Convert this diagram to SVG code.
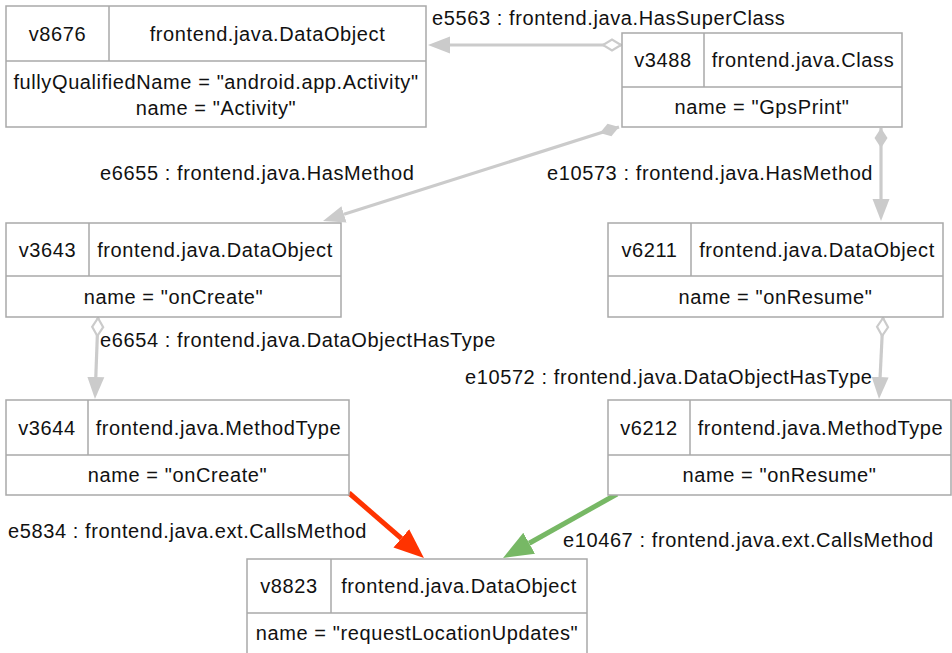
<svg xmlns="http://www.w3.org/2000/svg" width="952" height="653" viewBox="0 0 952 653">
<style>
  text { font-family: "Liberation Sans", Arial, Helvetica, sans-serif; font-size: 20px; fill: #111; letter-spacing: 0.6px; }
  .c { text-anchor: middle; }
  .box { fill: #fff; stroke: #a9a9a9; stroke-width: 1.5; }
  .div { stroke: #a9a9a9; stroke-width: 1.5; fill: none; }
  .gray { stroke: #cbcbcb; stroke-width: 3.2; fill: none; }
  .red { stroke: #ff3300; stroke-width: 5; fill: none; }
  .green { stroke: #77b865; stroke-width: 5; fill: none; }
</style>
<defs>
  <marker id="arrowGray" markerUnits="userSpaceOnUse" viewBox="0 -9 23 18" refX="0" refY="0" markerWidth="23" markerHeight="18" orient="auto">
    <path d="M0,-8.5 L22,0 L0,8.5 z" fill="#cbcbcb"/>
  </marker>
  <marker id="arrowRed" markerUnits="userSpaceOnUse" viewBox="0 -13 31 26" refX="0" refY="0" markerWidth="31" markerHeight="26" orient="auto">
    <path d="M0,-12 L30,0 L0,12 z" fill="#ff3300"/>
  </marker>
  <marker id="arrowGreen" markerUnits="userSpaceOnUse" viewBox="0 -13 31 26" refX="0" refY="0" markerWidth="31" markerHeight="26" orient="auto">
    <path d="M0,-12 L30,0 L0,12 z" fill="#77b865"/>
  </marker>
  <marker id="diamondOpen" markerUnits="userSpaceOnUse" viewBox="-2 -8 24 16" refX="0" refY="0" markerWidth="24" markerHeight="16" orient="auto" overflow="visible">
    <path d="M0,0 L9,-5.5 L18,0 L9,5.5 z" fill="#fff" stroke="#cbcbcb" stroke-width="2.2"/>
  </marker>
  <marker id="diamondFilled" markerUnits="userSpaceOnUse" viewBox="-2 -8 24 16" refX="0" refY="0" markerWidth="24" markerHeight="16" orient="auto" overflow="visible">
    <path d="M0,0 L10,-6.5 L20,0 L10,6.5 z" fill="#cbcbcb"/>
  </marker>
</defs>
<rect width="952" height="653" fill="#fff"/>

<g id="connectors">
  <g id="e5563">
    <path class="gray" d="M621,45 L450,45" marker-start="url(#diamondOpen)" marker-end="url(#arrowGray)"/>
    <text x="432" y="25">e5563 : frontend.java.HasSuperClass</text>
  </g>
  <g id="e6655">
    <path class="gray" d="M619,127 L344,214.3" marker-start="url(#diamondFilled)" marker-end="url(#arrowGray)"/>
    <text x="100" y="180">e6655 : frontend.java.HasMethod</text>
  </g>
  <g id="e10573">
    <path class="gray" d="M881,128 L881,199" marker-start="url(#diamondFilled)" marker-end="url(#arrowGray)"/>
    <text x="547" y="180">e10573 : frontend.java.HasMethod</text>
  </g>
  <g id="e6654">
    <path class="gray" d="M98,318 L95.8,377" marker-start="url(#diamondOpen)" marker-end="url(#arrowGray)"/>
    <text x="100" y="347">e6654 : frontend.java.DataObjectHasType</text>
  </g>
  <g id="e10572">
    <path class="gray" d="M883,318 L880.1,377" marker-start="url(#diamondOpen)" marker-end="url(#arrowGray)"/>
    <text x="465" y="384">e10572 : frontend.java.DataObjectHasType</text>
  </g>
  <g id="e5834">
    <path class="red" d="M349,493 L401.3,538.4" marker-end="url(#arrowRed)"/>
    <text x="8" y="538">e5834 : frontend.java.ext.CallsMethod</text>
  </g>
  <g id="e10467">
    <path class="green" d="M617,494 L529.2,543.3" marker-end="url(#arrowGreen)"/>
    <text x="563" y="547">e10467 : frontend.java.ext.CallsMethod</text>
  </g>
</g>

<g id="v8676">
  <rect class="box" x="6" y="6" width="420" height="121"/>
  <path class="div" d="M6,61 H426 M109,6 V61"/>
  <text class="c" x="57.5" y="40.5">v8676</text>
  <text class="c" x="267.5" y="40.5">frontend.java.DataObject</text>
  <text class="c" x="216" y="89">fullyQualifiedName = "android.app.Activity"</text>
  <text class="c" x="216" y="115">name = "Activity"</text>
</g>

<g id="v3488">
  <rect class="box" x="622" y="33" width="280" height="94"/>
  <path class="div" d="M622,87 H902 M704,33 V87"/>
  <text class="c" x="663" y="67">v3488</text>
  <text class="c" x="803" y="67">frontend.java.Class</text>
  <text class="c" x="762" y="114">name = "GpsPrint"</text>
</g>

<g id="v3643">
  <rect class="box" x="6" y="223" width="335" height="94"/>
  <path class="div" d="M6,276 H341 M89,223 V276"/>
  <text class="c" x="47.5" y="256.5">v3643</text>
  <text class="c" x="215" y="256.5">frontend.java.DataObject</text>
  <text class="c" x="173.5" y="303.5">name = "onCreate"</text>
</g>

<g id="v6211">
  <rect class="box" x="608" y="223" width="335" height="94"/>
  <path class="div" d="M608,276 H943 M691,223 V276"/>
  <text class="c" x="649.5" y="256.5">v6211</text>
  <text class="c" x="817" y="256.5">frontend.java.DataObject</text>
  <text class="c" x="775.5" y="303.5">name = "onResume"</text>
</g>

<g id="v3644">
  <rect class="box" x="6" y="400" width="343" height="95"/>
  <path class="div" d="M6,455 H349 M88,400 V455"/>
  <text class="c" x="47" y="434.5">v3644</text>
  <text class="c" x="218.5" y="434.5">frontend.java.MethodType</text>
  <text class="c" x="177.5" y="482">name = "onCreate"</text>
</g>

<g id="v6212">
  <rect class="box" x="608" y="400" width="343" height="95"/>
  <path class="div" d="M608,455 H951 M690,400 V455"/>
  <text class="c" x="649" y="434.5">v6212</text>
  <text class="c" x="820.5" y="434.5">frontend.java.MethodType</text>
  <text class="c" x="779.5" y="482">name = "onResume"</text>
</g>

<g id="v8823">
  <rect class="box" x="247" y="559" width="340" height="96"/>
  <path class="div" d="M247,613 H587 M331,559 V613"/>
  <text class="c" x="289" y="593">v8823</text>
  <text class="c" x="459" y="593">frontend.java.DataObject</text>
  <text class="c" x="417" y="640">name = "requestLocationUpdates"</text>
</g>
</svg>
